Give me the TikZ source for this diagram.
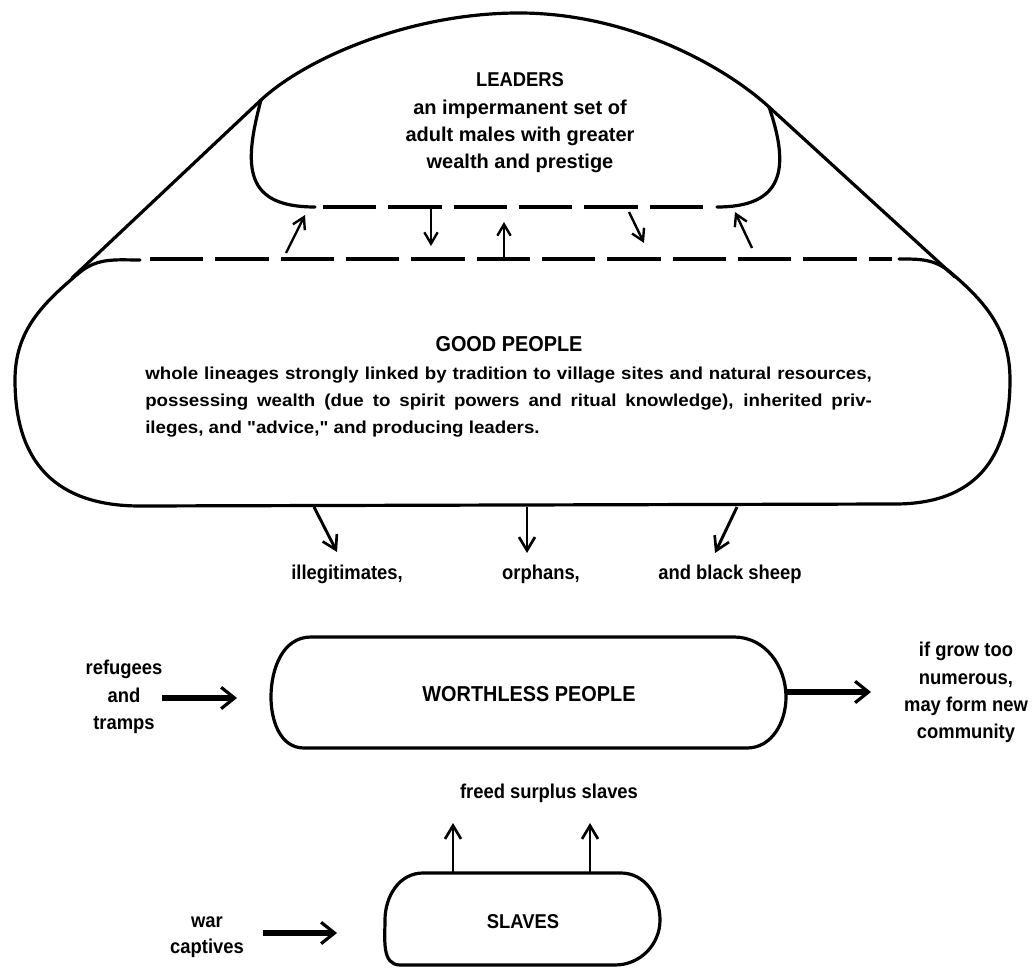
\documentclass[tikz,border=0pt]{standalone}
\usepackage{fontspec}
\setmainfont{Liberation Sans}[Ligatures=TeXOff]
\newfontfamily\condf{Liberation Sans}[FakeStretch=0.92,Ligatures=TeXOff]
\newfontfamily\widef{Liberation Sans}[FakeStretch=1.08,Ligatures=TeXOff]
\usetikzlibrary{arrows.meta}
\begin{document}
\begin{tikzpicture}[x=0.75pt,y=0.75pt,
  outline/.style={line width=2.4pt,line join=round,line cap=round},
  dashline/.style={line width=2.8pt,dash pattern=on 40pt off 9pt},
  thinarrow/.style={line width=1.8pt,-{Straight Barb[length=8.5pt,width=10pt,line width=1.8pt]}},
  midarrow/.style={line width=2.2pt,-{Straight Barb[length=10pt,width=12pt,line width=2pt]}},
  thickarrow/.style={line width=3.8pt,-{Straight Barb[length=10pt,width=16pt,line width=2.4pt]}},
  ttl/.style={inner sep=0pt,anchor=base,font=\condf\bfseries\fontsize{16.2}{20}\selectfont},
  lbl/.style={inner sep=0pt,anchor=base,font=\condf\bfseries\fontsize{15}{20.5}\selectfont},
  bodytxt/.style={inner sep=0pt,anchor=base,font=\bfseries\fontsize{15}{20}\selectfont}
]
\useasboundingbox (0,0) rectangle (1036,-969);

% ---- hull and leaders
\draw[outline] (72,-278) -- (261,-100) .. controls (305,-59) and (409,-13) .. (519,-13)
  .. controls (629,-13) and (725,-66.5) .. (769,-107) -- (955,-277);
\draw[outline] (261,-100) to[out=-105,in=180,looseness=1.5] (315,-207);
\draw[outline] (717,-207) to[out=0,in=-71,looseness=1.5] (769,-107);
\draw[dashline] (323,-207) -- (712,-207);

% ---- good people
\draw[outline] (140,-260) to[out=180,in=40] (79,-273) to[out=220,in=90] (15,-380)
  to[out=-90,in=180,looseness=1.2] (140,-506) -- (895,-504)
  to[out=0,in=-90,looseness=1.2] (1010,-380) to[out=90,in=-40] (950,-272)
  to[out=140,in=0] (899,-259);
\draw[dashline] (150,-259) -- (892,-259);

% ---- worthless people
\draw[outline] (311,-637) -- (734,-637) to[out=0,in=90] (786,-697) to[out=-90,in=0] (747,-748)
  -- (304,-748) to[out=180,in=-90] (271,-697) to[out=90,in=180] (311,-637) -- cycle;

% ---- slaves
\draw[outline] (423,-873) -- (621,-873) to[out=0,in=90] (660,-920) to[out=-90,in=0] (615,-965)
  -- (400,-965) to[out=180,in=-90] (385,-920) to[out=90,in=180] (423,-873) -- cycle;

% ---- texts
\node[ttl,font=\condf\bfseries\fontsize{15}{20}\selectfont] (ldr) at (520,-87) {LEADERS};
\node[bodytxt] (ldrtxt) at (520,-115) {\begin{tabular}[t]{@{}c@{}}an impermanent set of\\adult males with greater\\wealth and prestige\end{tabular}};
\node[ttl] (gp) at (509,-352) {GOOD PEOPLE};
\node[inner sep=0pt,anchor=base west,font=\widef\bfseries\fontsize{13}{20}\selectfont] (gptxt) at (145,-380)
 {\begin{tabular}[t]{@{}l@{}}\makebox[545pt][s]{whole lineages strongly linked by tradition to village sites and natural resources,}\\
 \makebox[545pt][s]{possessing wealth (due to spirit powers and ritual knowledge), inherited priv-}\\
 ileges, and "advice," and producing leaders.\end{tabular}};
\node[lbl] (illeg) at (347,-580) {illegitimates,};
\node[lbl] (orph) at (541,-580) {orphans,};
\node[lbl] (sheep) at (730,-580) {and black sheep};
\node[ttl] (wp) at (529,-701) {WORTHLESS PEOPLE};
\node[lbl] (refu) at (124,-675) {\begin{tabular}[t]{@{}c@{}}refugees\\and\\tramps\end{tabular}};
\node[lbl] (grow) at (966,-657) {\begin{tabular}[t]{@{}c@{}}if grow too\\numerous,\\may form new\\community\end{tabular}};
\node[lbl] (freed) at (549,-798) {freed surplus slaves};
\node[ttl,font=\condf\bfseries\fontsize{15}{20}\selectfont] (sl) at (523,-928) {SLAVES};
\node[lbl,font=\condf\bfseries\fontsize{15}{19.5}\selectfont] (war) at (207,-927) {\begin{tabular}[t]{@{}c@{}}war\\captives\end{tabular}};

% ---- connector end points
\coordinate (a1s) at (286,-253); \coordinate (a1e) at (305,-215);
\coordinate (a2s) at (431,-208); \coordinate (a2e) at (431,-246);
\coordinate (a3s) at (504,-259); \coordinate (a3e) at (504,-222);
\coordinate (a4s) at (629,-212); \coordinate (a4e) at (644,-243);
\coordinate (a5s) at (752,-248); \coordinate (a5e) at (735,-212);
\coordinate (b1s) at (314,-507); \coordinate (b1e) at (337,-552);
\coordinate (b2s) at (527,-507); \coordinate (b2e) at (527,-553);
\coordinate (b3s) at (737,-507); \coordinate (b3e) at (715,-553);
\coordinate (wis) at (162,-698); \coordinate (wie) at (237,-698);
\coordinate (wos) at (786,-692); \coordinate (woe) at (871,-692);
\coordinate (s1s) at (453,-872); \coordinate (s1e) at (453,-823);
\coordinate (s2s) at (590,-872); \coordinate (s2e) at (590,-823);
\coordinate (cs) at (263,-933); \coordinate (ce) at (337,-933);

\draw[thinarrow] (a1s) -- (a1e);
\draw[thinarrow] (a2s) -- (a2e);
\draw[thinarrow] (a3s) -- (a3e);
\draw[thinarrow] (a4s) -- (a4e);
\draw[thinarrow] (a5s) -- (a5e);
\draw[midarrow] (b1s) -- (b1e);
\draw[midarrow] (b2s) -- (b2e);
\draw[midarrow] (b3s) -- (b3e);
\draw[thickarrow] (wis) -- (wie);
\draw[thickarrow] (wos) -- (woe);
\draw[midarrow] (s1s) -- (s1e);
\draw[midarrow] (s2s) -- (s2e);
\draw[thickarrow] (cs) -- (ce);
\end{tikzpicture}
\end{document}
